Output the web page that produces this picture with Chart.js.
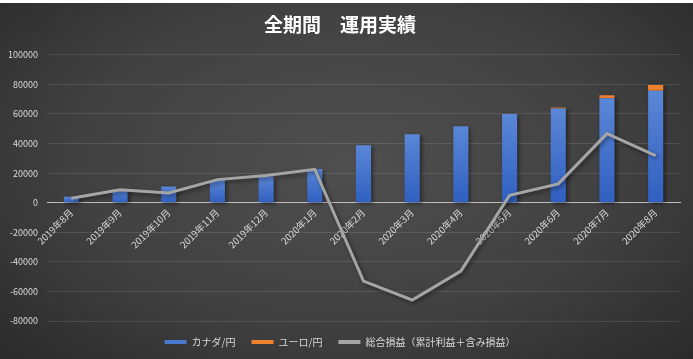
<!DOCTYPE html>
<html>
<head>
<meta charset="utf-8">
<script src="https://cdn.jsdelivr.net/npm/chart.js@4.4.0/dist/chart.umd.min.js"></script>
<style>
  html, body { margin: 0; padding: 0; }
  body {
    width: 693px; height: 359px; overflow: hidden; position: relative;
    background: radial-gradient(ellipse 70% 80% at 50% 45%, #4f4f4f 0%, #414141 55%, #2a2a2a 100%);
  }
  #topline { position: absolute; left: 0; top: 0; width: 693px; height: 3px; background: #fff; }
  #chart { position: absolute; left: 0; top: 0; }
</style>
</head>
<body>
<div id="topline"></div>
<canvas id="chart" width="693" height="359"></canvas>
<script>
// data
const months = ['2019年8月', '2019年9月', '2019年10月', '2019年11月', '2019年12月', '2020年1月',
  '2020年2月', '2020年3月', '2020年4月', '2020年5月', '2020年6月', '2020年7月', '2020年8月'];
const cadJpy = [4100, 9000, 11000, 15400, 17700, 22700, 38900, 46300, 51700, 59900, 63700, 70700, 75700];
const eurJpy = [0, 0, 0, 0, 0, 0, 0, 0, 0, 0, 600, 2000, 3900];
const totalPL = [3000, 8800, 6600, 15600, 18400, 22600, -53000, -65800, -46300, 5000, 12700, 46700, 31800];

const yTicks = [100000, 80000, 60000, 40000, 20000, 0, -20000, -40000, -60000, -80000];

// soft drop shadow under bars and line
const shadow = {
  id: 'shadow',
  beforeDatasetsDraw(chart) {
    const ctx = chart.ctx;
    ctx.save();
    ctx.shadowColor = 'rgba(0,0,0,0.45)';
    ctx.shadowBlur = 4;
    ctx.shadowOffsetX = 2;
    ctx.shadowOffsetY = 2;
  },
  afterDatasetsDraw(chart) {
    chart.ctx.restore();
  }
};

// each blue bar gets its own light-to-dark fill
function blueFill(c) {
  const y = c.chart.scales.y;
  if (!y || c.raw == null || !c.chart.chartArea) return '#4a78cc';
  const top = y.getPixelForValue(c.raw);
  const bottom = y.getPixelForValue(0);
  if (!isFinite(top) || !isFinite(bottom) || top === bottom) return '#4a78cc';
  const g = c.chart.ctx.createLinearGradient(0, top, 0, bottom);
  g.addColorStop(0, '#5b87d7');
  g.addColorStop(1, '#2f5fc0');
  return g;
}

new Chart(document.getElementById('chart'), {
  data: {
    labels: months,
    datasets: [{
      type: 'bar',
      label: 'カナダ/円',
      data: cadJpy,
      backgroundColor: blueFill,
      stack: 'fx',
      barPercentage: 0.62,
      categoryPercentage: 0.5,
      order: 2
    }, {
      type: 'bar',
      label: 'ユーロ/円',
      data: eurJpy,
      backgroundColor: '#f0812f',
      stack: 'fx',
      barPercentage: 0.62,
      categoryPercentage: 0.5,
      order: 2
    }, {
      type: 'line',
      label: '総合損益（累計利益＋含み損益）',
      data: totalPL,
      borderColor: '#a5a5a5',
      backgroundColor: '#a5a5a5',
      borderWidth: 3,
      pointRadius: 0,
      tension: 0,
      fill: false,
      stack: 'pl',
      order: 1
    }]
  },
  options: {
    responsive: false,
    animation: false,
    layout: { padding: { left: 0, right: 13, top: 0, bottom: 2 } },
    plugins: {
      title: {
        display: true,
        text: '全期間　運用実績',
        color: '#ffffff',
        font: { family: '"Noto Sans CJK JP"', size: 19, weight: 'bold' },
        padding: { top: 13, bottom: 19 }
      },
      legend: {
        position: 'bottom',
        labels: {
          color: '#d9d9d9',
          font: { family: '"Noto Sans CJK JP"', size: 10 },
          boxWidth: 22,
          boxHeight: 4,
          padding: 16,
          generateLabels(chart) {
            const colors = ['#4a78cc', '#f0812f', '#a5a5a5'];
            return chart.data.datasets.map((ds, i) => ({
              text: ds.label,
              fillStyle: colors[i],
              strokeStyle: colors[i],
              lineWidth: 0,
              fontColor: '#d9d9d9',
              datasetIndex: i
            }));
          }
        }
      },
      tooltip: { enabled: false }
    },
    scales: {
      x: {
        stacked: true,
        position: { y: 0 },
        grid: { display: false, drawTicks: false },
        border: { display: true, color: '#bfbfbf', width: 1 },
        ticks: {
          color: '#d9d9d9',
          font: { family: '"Noto Sans CJK JP"', size: 9.5 },
          minRotation: 45,
          maxRotation: 45,
          autoSkip: false,
          padding: 4
        }
      },
      y: {
        stacked: true,
        min: -80000,
        max: 100000,
        afterFit(scale) { scale.width = 47; },
        afterBuildTicks(scale) { scale.ticks = yTicks.map(v => ({ value: v })); },
        grid: {
          drawTicks: false,
          color: ctx => ctx.tick && ctx.tick.value === 0 ? 'rgba(0,0,0,0)' : 'rgba(255,255,255,0.11)'
        },
        border: { display: false },
        ticks: {
          color: '#d9d9d9',
          font: { family: '"Noto Sans CJK JP"', size: 9 },
          padding: 9,
          callback: v => String(v)
        }
      }
    }
  },
  plugins: [shadow]
});
</script>
</body>
</html>
